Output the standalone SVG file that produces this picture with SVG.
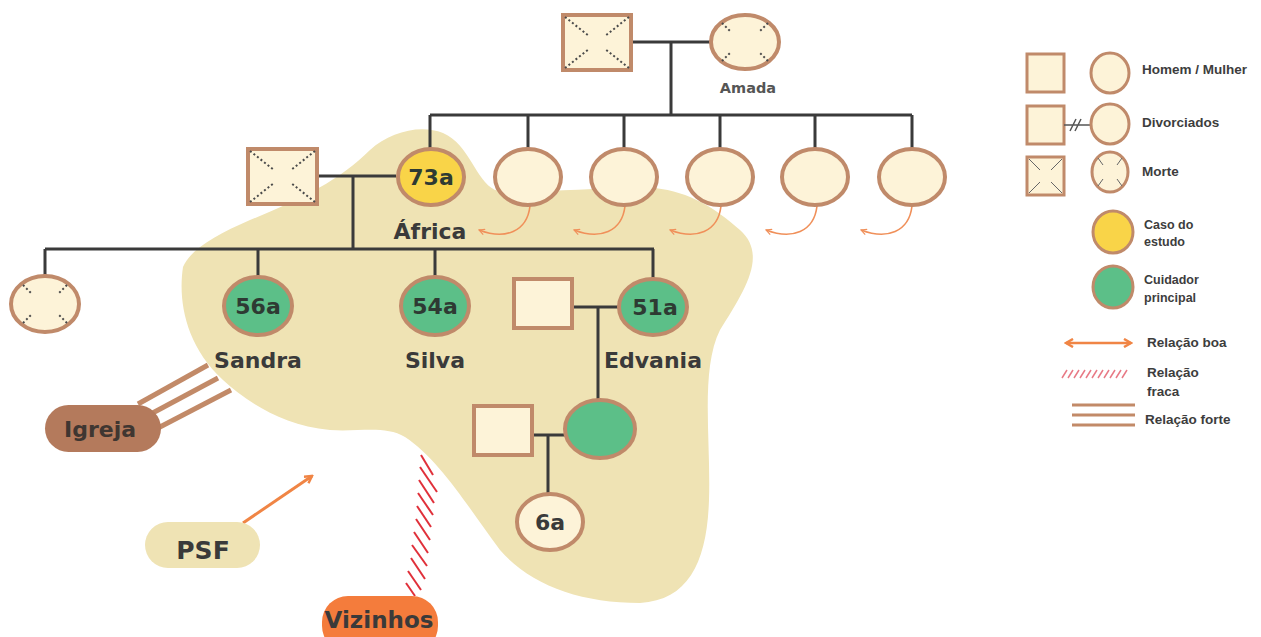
<svg xmlns="http://www.w3.org/2000/svg" width="1261" height="637" viewBox="0 0 1261 637">
<defs>
<style>
.ln{stroke:#3a3a3a;stroke-width:3;fill:none}
.p{fill:#fdf3d8;stroke:#c08a6a;stroke-width:4}
.y{fill:#f9d448;stroke:#c08a6a;stroke-width:4}
.g{fill:#5cbf88;stroke:#c08a6a;stroke-width:4}
.dot{stroke:#4a4a4a;stroke-width:2;stroke-dasharray:2 2.5;fill:none}
.name{font-family:"DejaVu Sans",sans-serif;font-weight:bold;font-size:22px;fill:#3a3a3a;text-anchor:middle}
.age{font-family:"DejaVu Sans",sans-serif;font-weight:bold;font-size:22px;fill:#2e3a33;text-anchor:middle}
.lg{font-family:"Liberation Sans",Arial,sans-serif;font-weight:bold;font-size:13.5px;fill:#3d3d3d}
.ca{stroke:#f0905a;stroke-width:1.6;fill:none}
.or{stroke:#f08545;stroke-width:3;fill:none}
.forte{stroke:#c28a68;stroke-width:5}
.hatch{stroke:#e0303a;stroke-width:2}
</style>
<marker id="ah" viewBox="0 0 10 10" refX="9" refY="5" markerWidth="7" markerHeight="7" orient="auto-start-reverse" markerUnits="userSpaceOnUse">
<path d="M1,1 L9,5 L1,9" fill="none" stroke="#f0905a" stroke-width="1.6"/>
</marker>
<marker id="ah2" viewBox="0 0 10 10" refX="8" refY="5" markerWidth="10" markerHeight="10" orient="auto-start-reverse" markerUnits="userSpaceOnUse">
<path d="M1,1 L8,5 L1,9" fill="none" stroke="#f08545" stroke-width="2.5"/>
</marker>
</defs>
<rect width="1261" height="637" fill="#ffffff"/>

<path id="blob" fill="#efe3b4" d="M183,267 C178,300 185,345 223,380 C245,400 280,425 330,430 C360,432 385,425 405,437 C440,460 470,510 500,550 C530,585 580,603 640,603 C690,600 707,560 709,500 C711,440 700,370 720,330 C745,290 768,255 740,230 C715,208 690,192 655,188 C600,186 530,195 495,190 C475,180 470,145 443,133 C420,124 390,132 370,150 C340,180 300,200 250,220 C215,235 190,250 183,267 Z"/>

<g id="connectors">
<path class="ln" d="M632,42 H710 M671,42 V115 M430,115 H912 M430,115 V148 M528,115 V148 M624,115 V148 M720,115 V148 M815,115 V148 M912,115 V148"/>
<path class="ln" d="M318,176 H396 M353,176 V249 M45,249 H654 M45,249 V276 M258,249 V278 M435,249 V278 M653,249 V278"/>
<path class="ln" d="M572,307 H618 M598,307 V399 M533,435 H566 M548,435 V495"/>
<path class="ca" marker-end="url(#ah)" d="M530,206 C527,232 505,240 479,230"/>
<path class="ca" marker-end="url(#ah)" d="M625,206 C622,232 600,240 574,230"/>
<path class="ca" marker-end="url(#ah)" d="M721,206 C718,232 696,240 670,230"/>
<path class="ca" marker-end="url(#ah)" d="M817,206 C814,232 792,240 766,230"/>
<path class="ca" marker-end="url(#ah)" d="M912,206 C909,232 887,240 861,230"/>
<g id="rel-igreja">
<line class="forte" x1="138" y1="404" x2="208" y2="365"/>
<line class="forte" x1="147" y1="416" x2="218" y2="378"/>
<line class="forte" x1="158" y1="428" x2="231" y2="390"/>
</g>
<path id="rel-psf" class="or" marker-end="url(#ah2)" d="M243,523 L312,476"/>
<g id="rel-vizinhos" class="hatch">
<line x1="421" y1="455" x2="433" y2="475"/>
<line x1="420" y1="467" x2="437" y2="492"/>
<line x1="419" y1="480" x2="434" y2="503"/>
<line x1="418" y1="493" x2="433" y2="515"/>
<line x1="417" y1="506" x2="431" y2="527"/>
<line x1="416" y1="519" x2="430" y2="540"/>
<line x1="414" y1="532" x2="428" y2="553"/>
<line x1="412" y1="545" x2="427" y2="566"/>
<line x1="411" y1="558" x2="425" y2="579"/>
<line x1="408" y1="571" x2="421" y2="590"/>
<line x1="406" y1="583" x2="415" y2="596"/>
</g>
</g>

<g id="avo">
<rect class="p" x="563" y="15" width="68" height="55"/>
<path class="dot" d="M565,17 L589,36 M629,17 L605,36 M565,68 L589,49 M629,68 L605,49"/>
</g>
<g id="amada">
<ellipse class="p" cx="745" cy="42" rx="34" ry="27"/>
<path class="dot" d="M722,23 L731,32 M768,23 L759,32 M722,61 L731,52 M768,61 L759,52"/>
<text x="748" y="93" text-anchor="middle" font-family="DejaVu Sans,sans-serif" font-weight="bold" font-size="14.5" fill="#555">Amada</text>
</g>

<g id="marido-africa">
<rect class="p" x="248" y="149" width="69" height="55"/>
<path class="dot" d="M250,151 L274,170 M315,151 L291,170 M250,202 L274,183 M315,202 L291,183"/>
</g>
<g id="africa">
<ellipse class="y" cx="431" cy="177" rx="33" ry="28"/>
<text class="age" x="431" y="185">73a</text>
<text class="name" x="430" y="239">África</text>
</g>
<g id="irma1"><ellipse class="p" cx="528" cy="177" rx="33" ry="28"/></g>
<g id="irma2"><ellipse class="p" cx="624" cy="177" rx="33" ry="28"/></g>
<g id="irma3"><ellipse class="p" cx="720" cy="177" rx="33" ry="28"/></g>
<g id="irma4"><ellipse class="p" cx="815" cy="177" rx="33" ry="28"/></g>
<g id="irma5"><ellipse class="p" cx="912" cy="177" rx="33" ry="28"/></g>

<g id="filha-falecida">
<ellipse class="p" cx="45" cy="304" rx="34" ry="28"/>
<path class="dot" d="M23,285 L32,294 M67,285 L58,294 M23,323 L32,314 M67,323 L58,314"/>
</g>
<g id="sandra">
<ellipse class="g" cx="258" cy="306" rx="34" ry="29"/>
<text class="age" x="258" y="314">56a</text>
<text class="name" x="258" y="368">Sandra</text>
</g>
<g id="silva">
<ellipse class="g" cx="435" cy="306" rx="34" ry="29"/>
<text class="age" x="435" y="314">54a</text>
<text class="name" x="435" y="368">Silva</text>
</g>
<g id="marido-edvania"><rect class="p" x="514" y="279" width="58" height="49"/></g>
<g id="edvania">
<ellipse class="g" cx="653" cy="307" rx="34" ry="28"/>
<text class="age" x="655" y="315">51a</text>
<text class="name" x="653" y="368">Edvania</text>
</g>
<g id="genro"><rect class="p" x="474" y="406" width="58" height="49"/></g>
<g id="neta-mae"><ellipse class="g" cx="600" cy="429" rx="35" ry="29"/></g>
<g id="neto">
<ellipse class="p" cx="550" cy="522" rx="33" ry="28"/>
<text class="age" x="550" y="530" style="fill:#3a3a3a">6a</text>
</g>

<g id="igreja">
<rect x="45" y="405" width="116" height="47" rx="23.5" fill="#b47a5c"/>
<text class="name" x="100" y="437" style="fill:#3f3631">Igreja</text>
</g>
<g id="psf">
<rect x="145" y="522" width="115" height="46" rx="23" fill="#efe3b4"/>
<text class="name" x="203" y="559" style="font-size:25px">PSF</text>
</g>
<g id="vizinhos">
<rect x="322" y="596" width="116" height="56" rx="26" fill="#f47c3c"/>
<text class="name" x="379" y="628" style="font-size:23px">Vizinhos</text>
</g>

<g id="legenda">
<rect class="p" x="1027" y="54" width="37" height="38" style="stroke-width:3"/>
<ellipse class="p" cx="1110" cy="73" rx="19" ry="20" style="stroke-width:3"/>
<text class="lg" x="1142" y="74">Homem / Mulher</text>
<rect class="p" x="1027" y="106" width="37" height="38" style="stroke-width:3"/>
<path d="M1064,125 H1091 M1070,131 L1076,119 M1075,131 L1081,119" stroke="#555" stroke-width="1.5" fill="none"/>
<ellipse class="p" cx="1110" cy="124" rx="19" ry="20" style="stroke-width:3"/>
<text class="lg" x="1142" y="127">Divorciados</text>
<rect class="p" x="1027" y="157" width="37" height="38" style="stroke-width:3"/>
<path d="M1029,159 L1040,170 M1062,159 L1051,170 M1029,193 L1040,182 M1062,193 L1051,182" stroke="#666" stroke-width="1" fill="none"/>
<ellipse class="p" cx="1110" cy="172" rx="18" ry="20" style="stroke-width:3"/>
<path d="M1098,158 L1103,165 M1122,158 L1117,165 M1098,186 L1103,179 M1122,186 L1117,179" stroke="#666" stroke-width="1" fill="none"/>
<text class="lg" x="1142" y="176">Morte</text>
<ellipse class="y" cx="1113" cy="232" rx="20" ry="21" style="stroke-width:3"/>
<text class="lg" x="1144" y="229" style="font-size:12.5px">Caso do</text>
<text class="lg" x="1144" y="246" style="font-size:12.5px">estudo</text>
<ellipse class="g" cx="1113" cy="287" rx="20" ry="21" style="stroke-width:3"/>
<text class="lg" x="1144" y="284" style="font-size:12.5px">Cuidador</text>
<text class="lg" x="1144" y="302" style="font-size:12.5px">principal</text>
<path class="or" d="M1066,343 H1131" style="stroke-width:2.5" marker-start="url(#ah2)" marker-end="url(#ah2)"/>
<text class="lg" x="1147" y="347">Relação boa</text>
<path d="M1062,378 l5,-8 M1068,378 l5,-8 M1074,378 l5,-8 M1080,378 l5,-8 M1086,378 l5,-8 M1092,378 l5,-8 M1098,378 l5,-8 M1104,378 l5,-8 M1110,378 l5,-8 M1116,378 l5,-8 M1122,378 l5,-8" stroke="#e87a86" stroke-width="1.5" fill="none"/>
<text class="lg" x="1147" y="377">Relação</text>
<text class="lg" x="1147" y="396">fraca</text>
<path d="M1072,405 H1135 M1072,415 H1135 M1072,425 H1135" stroke="#c28a68" stroke-width="3" fill="none"/>
<text class="lg" x="1145" y="424">Relação forte</text>
</g>
</svg>
